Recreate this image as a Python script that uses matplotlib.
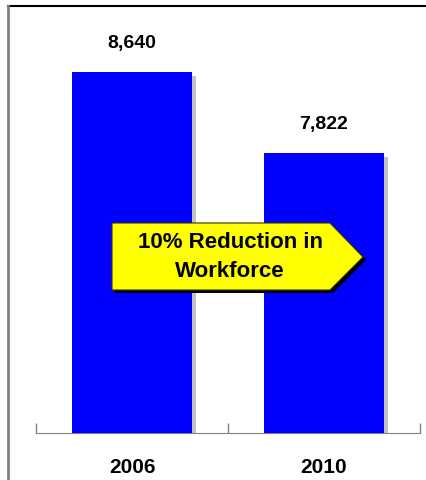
import matplotlib.pyplot as plt
from matplotlib.patches import Polygon
from matplotlib.lines import Line2D
import matplotlib.patheffects as pe

years = ["2006", "2010"]
workforce = [8640, 7822]
value_labels = ["8,640", "7,822"]
arrow_text = "10% Reduction in\nWorkforce"

plt.rcParams['font.family'] = ['Liberation Sans Narrow', 'Liberation Sans', 'DejaVu Sans']

W, H = 426, 480
fig = plt.figure(figsize=(W / 100, H / 100), dpi=100)
ax = fig.add_axes([36 / W, 1 - 433 / H, 384 / W, 427 / H])

bars = ax.bar(range(len(years)), workforce, width=0.625, color="#0000ff",
              zorder=3,
              path_effects=[pe.SimplePatchShadow(offset=(3, -3), shadow_rgbFace="#999999", alpha=0.6),
                            pe.Normal()])
ax.set_xlim(-0.5, 1.5)
ax.set_ylim(5000, 9300)

for i, (v, lab) in enumerate(zip(workforce, value_labels)):
    ax.annotate(lab, (i, v), xytext=(0, 14), textcoords="offset points",
                ha="center", va="bottom", fontsize=14, fontweight="bold")

ax.set_xticks(range(len(years)))
ax.set_xticklabels(years, fontsize=15, fontweight="bold")
ax.tick_params(axis="x", which="major", length=0, pad=18)
ax.set_xticks([-0.5, 0.5, 1.5], minor=True)
ax.tick_params(axis="x", which="minor", direction="in", length=7, color="#808080", width=1)
ax.set_yticks([])
for s in ["top", "left", "right"]:
    ax.spines[s].set_visible(False)
ax.spines["bottom"].set_color("#808080")

# frame lines
fig.add_artist(Line2D([8 / W, 1], [1 - 6 / H, 1 - 6 / H], color="black", lw=1.5))
fig.add_artist(Line2D([8 / W, 8 / W], [0, 1 - 6 / H], color="#808080", lw=2))

# yellow arrow callout
pts = [(112, 223), (330, 223), (363, 257), (330, 290), (112, 290)]
shadow = [((x + 3) / W, 1 - (y + 3) / H) for x, y in pts]
main = [(x / W, 1 - y / H) for x, y in pts]
fig.add_artist(Polygon(shadow, closed=True, facecolor="black", edgecolor="none"))
fig.add_artist(Polygon(main, closed=True, facecolor="#ffff00", edgecolor="#333300", lw=0.8))
fig.text(230 / W, 1 - 257 / H, arrow_text, ha="center", va="center",
         fontsize=16, fontweight="bold", linespacing=1.45)

fig.savefig("out.png", dpi=100)
